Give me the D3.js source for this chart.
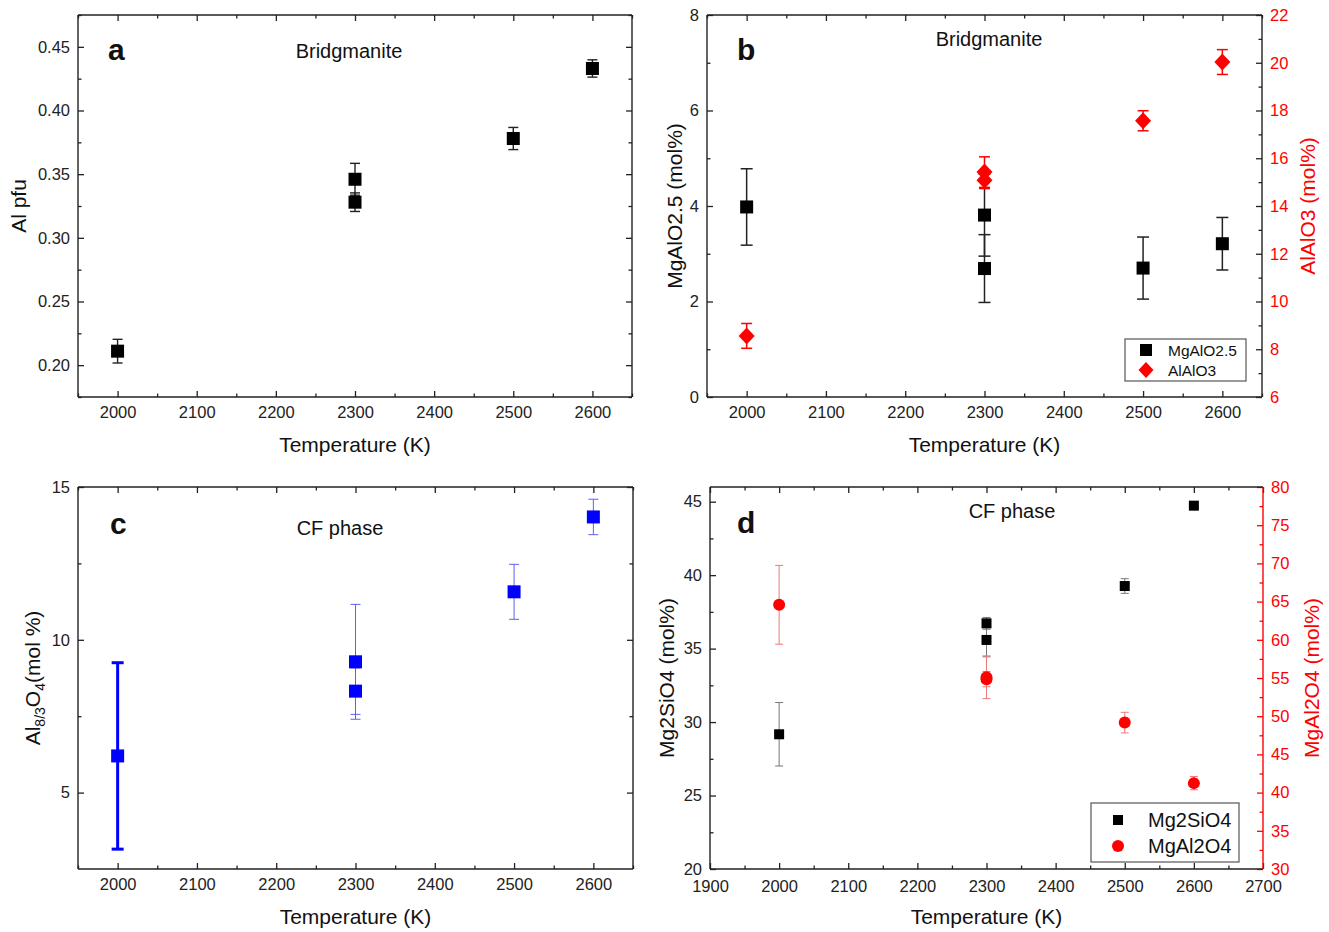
<!DOCTYPE html>
<html>
<head>
<meta charset="utf-8">
<script src="https://cdn.jsdelivr.net/npm/d3@7/dist/d3.min.js"></script>
<style>
  html, body { margin: 0; padding: 0; background: #fff; }
  svg { display: block; font-family: "Liberation Sans", Arial, Helvetica, sans-serif; }
</style>
</head>
<body>
<svg id="chart" width="1329" height="932"></svg>
<script>
// ---------- DATA ----------
const tempA = [2000, 2300, 2300, 2500, 2600];
const alPfu = [0.211, 0.346, 0.328, 0.378, 0.433];
const alPfuErr = [0.0093, 0.0125, 0.0073, 0.0087, 0.0068];

const tempB = [2000, 2300, 2300, 2500, 2600];
const mgAlO25 = [3.98, 3.81, 2.69, 2.70, 3.21];
const mgAlO25Err = [0.80, 0.86, 0.71, 0.65, 0.55];
const alAlO3 = [8.56, 15.42, 15.08, 17.57, 20.03];
const alAlO3Err = [0.52, 0.64, 0.35, 0.42, 0.52];

const tempC = [2000, 2300, 2300, 2500, 2600];
const al83O4 = [6.20, 9.28, 8.32, 11.57, 14.02];
const al83O4Err = [3.05, 1.88, 0.76, 0.90, 0.58];

const tempD = [2000, 2300, 2300, 2500, 2600];
const mg2SiO4 = [29.17, 36.72, 35.59, 39.26, 44.73];
const mg2SiO4Err = [2.16, 0.40, 1.15, 0.50, 0.15];
const mgAl2O4 = [64.58, 55.10, 54.85, 49.16, 41.24];
const mgAl2O4Err = [5.16, 2.80, 1.00, 1.35, 0.87];

const xTicksABC = [2000, 2100, 2200, 2300, 2400, 2500, 2600];
const xTicksD = [1900, 2000, 2100, 2200, 2300, 2400, 2500, 2600, 2700];
const yTicksA = [0.20, 0.25, 0.30, 0.35, 0.40, 0.45];
const yTicksBL = [0, 2, 4, 6, 8];
const yTicksBR = [6, 8, 10, 12, 14, 16, 18, 20, 22];
const yTicksC = [5, 10, 15];
const yTicksDL = [20, 25, 30, 35, 40, 45];
const yTicksDR = [30, 35, 40, 45, 50, 55, 60, 65, 70, 75, 80];

// ---------- HELPERS ----------
const svg = d3.select("#chart");
const RED = "#ff0000";
const AX = "#222";

function range(a, b, s) { const r = []; for (let v = a; v <= b + 1e-9; v += s) r.push(+v.toFixed(6)); return r; }

function frame(box, x, y, opts) {
  const g = svg.append("g");
  const fs = 16.5;
  const style = (sel, color) => {
    sel.select(".domain").remove();
    sel.selectAll("line").attr("stroke", color).attr("stroke-width", 1.3);
    sel.selectAll("text").attr("fill", color).style("font-size", fs + "px").style("font-family", "Liberation Sans, Arial, sans-serif");
  };
  const xPad = opts.xPad || 9;
  // bottom
  style(g.append("g").attr("transform", `translate(0,${box.b})`)
    .call(d3.axisBottom(x).tickValues(opts.xTicks).tickSizeInner(-6).tickSizeOuter(0).tickPadding(xPad).tickFormat(d3.format("d"))), AX);
  style(g.append("g").attr("transform", `translate(0,${box.b})`)
    .call(d3.axisBottom(x).tickValues(opts.xMinor).tickSizeInner(-3.5).tickSizeOuter(0).tickFormat("")), AX);
  // top
  style(g.append("g").attr("transform", `translate(0,${box.t})`)
    .call(d3.axisTop(x).tickValues(opts.xTicks).tickSizeInner(-6).tickSizeOuter(0).tickFormat("")), AX);
  style(g.append("g").attr("transform", `translate(0,${box.t})`)
    .call(d3.axisTop(x).tickValues(opts.xMinor).tickSizeInner(-3.5).tickSizeOuter(0).tickFormat("")), AX);
  // left
  style(g.append("g").attr("transform", `translate(${box.l},0)`)
    .call(d3.axisLeft(y).tickValues(opts.yTicks).tickSizeInner(-6).tickSizeOuter(0).tickPadding(8).tickFormat(opts.yFmt)), AX);
  style(g.append("g").attr("transform", `translate(${box.l},0)`)
    .call(d3.axisLeft(y).tickValues(opts.yMinor).tickSizeInner(-3.5).tickSizeOuter(0).tickFormat("")), AX);
  // right
  const ry = opts.yR || y;
  const rc = opts.yR ? RED : AX;
  const rTickColor = opts.redSpine ? RED : AX;
  const rAx = g.append("g").attr("transform", `translate(${box.r},0)`)
    .call(d3.axisRight(ry).tickValues(opts.yRTicks || opts.yTicks).tickSizeInner(-6).tickSizeOuter(0).tickPadding(8)
      .tickFormat(opts.yR ? d3.format("d") : ""));
  style(rAx, rc);
  rAx.selectAll("line").attr("stroke", rTickColor);
  const rAx2 = g.append("g").attr("transform", `translate(${box.r},0)`)
    .call(d3.axisRight(ry).tickValues(opts.yRMinor || opts.yMinor).tickSizeInner(-3.5).tickSizeOuter(0).tickFormat(""));
  style(rAx2, rTickColor);
  // box
  g.append("line").attr("x1", box.l).attr("x2", box.r).attr("y1", box.b).attr("y2", box.b).attr("stroke", AX).attr("stroke-width", 1.4);
  g.append("line").attr("x1", box.l).attr("x2", box.r).attr("y1", box.t).attr("y2", box.t).attr("stroke", AX).attr("stroke-width", 1.4);
  g.append("line").attr("x1", box.l).attr("x2", box.l).attr("y1", box.t).attr("y2", box.b).attr("stroke", AX).attr("stroke-width", 1.4);
  g.append("line").attr("x1", box.r).attr("x2", box.r).attr("y1", box.t).attr("y2", box.b)
    .attr("stroke", opts.redSpine ? RED : AX).attr("stroke-width", 1.4);
  // x title
  g.append("text").attr("x", (box.l + box.r) / 2).attr("y", box.b + 55).attr("text-anchor", "middle")
    .style("font-size", "21px").attr("fill", "#111").text("Temperature (K)");
  return g;
}

function yTitle(text, cx, cy, color) {
  return svg.append("text").attr("transform", `translate(${cx},${cy}) rotate(-90)`).attr("text-anchor", "middle")
    .attr("dy", "0.35em").style("font-size", "21px").attr("fill", color || "#111").text(text);
}

function errBars(xs, ys, es, x, y, colorFn, widthFn, cap) {
  const g = svg.append("g");
  xs.forEach((t, i) => {
    const sw = widthFn(i), color = colorFn(i);
    const cx = x(t), y1 = y(ys[i] - es[i]), y2 = y(ys[i] + es[i]);
    const c = sw > 2 ? cap + 2 : cap;
    g.append("line").attr("x1", cx).attr("x2", cx).attr("y1", y1).attr("y2", y2).attr("stroke", color).attr("stroke-width", sw);
    g.append("line").attr("x1", cx - c / 2).attr("x2", cx + c / 2).attr("y1", y1).attr("y2", y1).attr("stroke", color).attr("stroke-width", sw);
    g.append("line").attr("x1", cx - c / 2).attr("x2", cx + c / 2).attr("y1", y2).attr("y2", y2).attr("stroke", color).attr("stroke-width", sw);
  });
}
const k = (v) => () => v;

function squares(xs, ys, x, y, color, size) {
  svg.append("g").selectAll("rect").data(xs).join("rect")
    .attr("x", (d) => x(d) - size / 2).attr("y", (d, i) => y(ys[i]) - size / 2)
    .attr("width", size).attr("height", size).attr("fill", color);
}

function diamonds(xs, ys, x, y, color, hw, hh) {
  svg.append("g").selectAll("path").data(xs).join("path")
    .attr("d", (d, i) => { const cx = x(d), cy = y(ys[i]); return `M${cx},${cy - hh}L${cx + hw},${cy}L${cx},${cy + hh}L${cx - hw},${cy}Z`; })
    .attr("fill", color);
}

function circles(xs, ys, x, y, color, r) {
  svg.append("g").selectAll("circle").data(xs).join("circle")
    .attr("cx", (d) => x(d)).attr("cy", (d, i) => y(ys[i])).attr("r", r).attr("fill", color);
}

function label(text, x, y, size, weight, anchor) {
  return svg.append("text").attr("x", x).attr("y", y).attr("text-anchor", anchor || "start")
    .style("font-size", size + "px").style("font-weight", weight || "normal").attr("fill", "#111").text(text);
}

const xMinorABC = range(1950, 2650, 50).filter(v => v % 100 !== 0);
const xMinorD = range(1900, 2700, 50).filter(v => v % 100 !== 0);

// ---------- PANEL A ----------
{
  const box = { l: 78, r: 632, t: 15, b: 397 };
  const x = d3.scaleLinear().domain([1950, 2650]).range([box.l, box.r]);
  const y = d3.scaleLinear().domain([0.175, 0.475]).range([box.b, box.t]);
  frame(box, x, y, { xTicks: xTicksABC, xMinor: xMinorABC, yTicks: yTicksA,
    yMinor: range(0.175, 0.475, 0.025).filter(v => Math.round(v * 1000) % 50 !== 0), yFmt: d3.format(".2f") });
  errBars(tempA, alPfu, alPfuErr, x, y, k("#222"), k(1.4), 10);
  squares(tempA, alPfu, x, y, "#000", 13);
  yTitle("Al pfu", 19, 206);
  label("a", 108, 60, 30, "bold");
  label("Bridgmanite", 349, 58, 20, "normal", "middle");
}

// ---------- PANEL B ----------
{
  const box = { l: 707, r: 1262, t: 15, b: 397 };
  const x = d3.scaleLinear().domain([1950, 2650]).range([box.l, box.r]);
  const y = d3.scaleLinear().domain([0, 8]).range([box.b, box.t]);
  const yR = d3.scaleLinear().domain([6, 22]).range([box.b, box.t]);
  frame(box, x, y, { xTicks: xTicksABC, xMinor: xMinorABC, yTicks: yTicksBL, yMinor: [1, 3, 5, 7],
    yFmt: d3.format("d"), yR: yR, yRTicks: yTicksBR, yRMinor: [7, 9, 11, 13, 15, 17, 19, 21] });
  errBars(tempB, mgAlO25, mgAlO25Err, x, y, k("#222"), k(1.5), 12);
  squares(tempB, mgAlO25, x, y, "#000", 13);
  errBars(tempB, alAlO3, alAlO3Err, x, yR, k(RED), k(1.5), 11);
  diamonds(tempB, alAlO3, x, yR, RED, 8, 8.5);
  yTitle("MgAlO2.5 (mol%)", 675, 206);
  yTitle("AlAlO3 (mol%)", 1308, 206, RED);
  label("b", 737, 60, 30, "bold");
  label("Bridgmanite", 989, 46, 20, "normal", "middle");
  // legend
  svg.append("rect").attr("x", 1125).attr("y", 339).attr("width", 121).attr("height", 42)
    .attr("fill", "#fff").attr("stroke", "#555").attr("stroke-width", 1.2);
  svg.append("rect").attr("x", 1140).attr("y", 344).attr("width", 12).attr("height", 12).attr("fill", "#000");
  svg.append("path").attr("d", "M1146,362L1153.5,370L1146,378L1138.5,370Z").attr("fill", RED);
  label("MgAlO2.5", 1168, 356, 15.5);
  label("AlAlO3", 1168, 376, 15.5);
}

// ---------- PANEL C ----------
{
  const box = { l: 78, r: 633, t: 487, b: 869 };
  const x = d3.scaleLinear().domain([1950, 2650]).range([box.l, box.r]);
  const y = d3.scaleLinear().domain([2.5, 15]).range([box.b, box.t]);
  frame(box, x, y, { xTicks: xTicksABC, xMinor: xMinorABC, yTicks: yTicksC, yMinor: [7.5, 12.5], yFmt: d3.format("d") });
  errBars(tempC, al83O4, al83O4Err, x, y, (i) => i === 0 ? "#0000ff" : "#6060ee", (i) => i === 0 ? 3 : 1, 10);
  squares(tempC, al83O4, x, y, "#0000ff", 13);
  const t = svg.append("text").attr("transform", "translate(33,678) rotate(-90)").attr("text-anchor", "middle")
    .attr("dy", "0.35em").style("font-size", "21px").attr("fill", "#111");
  t.append("tspan").text("Al");
  t.append("tspan").attr("dy", "5").style("font-size", "14px").text("8/3");
  t.append("tspan").attr("dy", "-5").text("O");
  t.append("tspan").attr("dy", "5").style("font-size", "14px").text("4");
  t.append("tspan").attr("dy", "-5").text("(mol %)");
  label("c", 110, 534, 30, "bold");
  label("CF phase", 340, 535, 20, "normal", "middle");
}

// ---------- PANEL D ----------
{
  const box = { l: 710, r: 1263, t: 487, b: 869 };
  const x = d3.scaleLinear().domain([1900, 2700]).range([box.l, box.r]);
  const y = d3.scaleLinear().domain([20, 46]).range([box.b, box.t]);
  const yR = d3.scaleLinear().domain([30, 80]).range([box.b, box.t]);
  frame(box, x, y, { xTicks: xTicksD, xMinor: xMinorD, yTicks: yTicksDL, yMinor: [22.5, 27.5, 32.5, 37.5, 42.5],
    yFmt: d3.format("d"), yR: yR, yRTicks: yTicksDR, yRMinor: range(32.5, 77.5, 5), redSpine: true, xPad: 11 });
  errBars(tempD, mg2SiO4, mg2SiO4Err, x, y, k("#777"), k(1), 8);
  squares(tempD, mg2SiO4, x, y, "#000", 10);
  errBars(tempD, mgAl2O4, mgAl2O4Err, x, yR, k("#f07878"), k(1), 8);
  circles(tempD, mgAl2O4, x, yR, RED, 6);
  yTitle("Mg2SiO4 (mol%)", 667, 678);
  yTitle("MgAl2O4 (mol%)", 1312, 678, RED);
  label("d", 737, 533, 30, "bold");
  label("CF phase", 1012, 518, 20, "normal", "middle");
  // legend
  svg.append("rect").attr("x", 1091).attr("y", 803).attr("width", 148).attr("height", 59)
    .attr("fill", "#fff").attr("stroke", "#555").attr("stroke-width", 1.2);
  svg.append("rect").attr("x", 1113).attr("y", 815).attr("width", 10).attr("height", 10).attr("fill", "#000");
  svg.append("circle").attr("cx", 1118).attr("cy", 846).attr("r", 6).attr("fill", RED);
  label("Mg2SiO4", 1148, 827, 20);
  label("MgAl2O4", 1148, 853, 20);
}
</script>
</body>
</html>
